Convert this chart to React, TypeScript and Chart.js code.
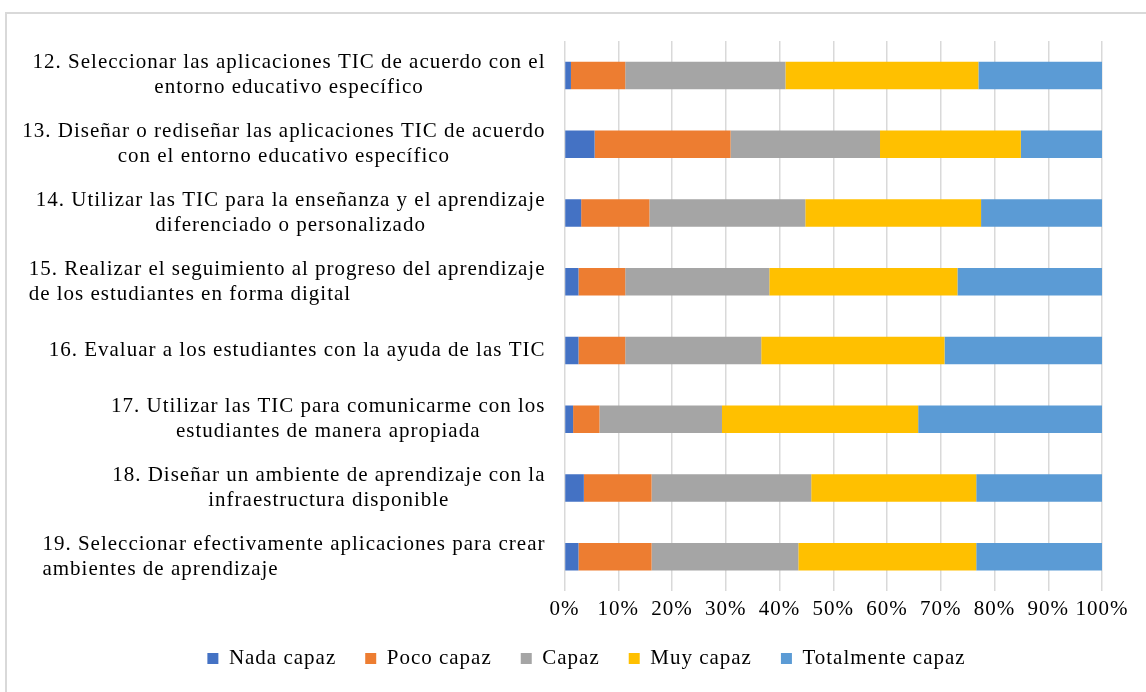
import React, { useEffect, useRef } from "react";
import { Chart, registerables } from "chart.js";

Chart.register(...registerables);

// ---------- data ----------
const categories: string[][] = [
  ["12. Seleccionar las aplicaciones TIC de acuerdo con el", "entorno educativo específico"],
  ["13. Diseñar o rediseñar las aplicaciones TIC de acuerdo", "con el entorno educativo específico"],
  ["14. Utilizar las TIC para la enseñanza y el aprendizaje", "diferenciado o personalizado"],
  ["15. Realizar el seguimiento al progreso del aprendizaje", "de los estudiantes en forma digital"],
  ["16. Evaluar a los estudiantes con la ayuda de las TIC"],
  ["17. Utilizar las TIC para comunicarme con los", "estudiantes de manera apropiada"],
  ["18. Diseñar un ambiente de aprendizaje con la", "infraestructura disponible"],
  ["19. Seleccionar efectivamente aplicaciones para crear", "ambientes de aprendizaje"],
];

const seriesNames = ["Nada capaz", "Poco capaz", "Capaz", "Muy capaz", "Totalmente capaz"];

const nadaCapaz = [1.2, 5.6, 3.1, 2.6, 2.6, 1.6, 3.6, 2.6];
const pocoCapaz = [10.1, 25.3, 12.7, 8.7, 8.7, 4.9, 12.6, 13.6];
const capaz = [29.8, 27.8, 29.0, 26.8, 25.3, 22.8, 29.7, 27.3];
const muyCapaz = [35.9, 26.2, 32.7, 35.0, 34.1, 36.5, 30.7, 33.1];
const totalmenteCapaz = [23.0, 15.2, 22.5, 26.9, 29.3, 34.2, 23.4, 23.4];

const xTickValues = [0, 10, 20, 30, 40, 50, 60, 70, 80, 90, 100];

// ---------- styles ----------
const seriesColors = ["#4472C4", "#ED7D31", "#A5A5A5", "#FFC000", "#5B9BD5"];
const labelAlign = ["center", "center", "center", "left", "center", "center", "center", "left"];
const FONT_FAMILY = '"Liberation Serif", "Times New Roman", serif';
const FONT_SIZE = 21;
const LETTER_SPACING = "1px";
const LINE_HEIGHT = 25;
const LABEL_GAP = 19;
const TEXT_COLOR = "#000000";
const GRID_COLOR = "#d9d9d9";

const spacingPlugin = {
  id: "letterSpacing",
  beforeUpdate(chart: any) {
    chart.ctx.letterSpacing = LETTER_SPACING;
  },
  beforeLayout(chart: any) {
    chart.ctx.letterSpacing = LETTER_SPACING;
  },
  beforeDraw(chart: any) {
    chart.ctx.letterSpacing = LETTER_SPACING;
  },
};

const yLabelPlugin = {
  id: "yLabels",
  afterDraw(chart: any) {
    const ctx = chart.ctx as CanvasRenderingContext2D;
    const yScale = chart.scales.y;
    ctx.save();
    (ctx as any).letterSpacing = LETTER_SPACING;
    ctx.font = `${FONT_SIZE}px ${FONT_FAMILY}`;
    ctx.fillStyle = TEXT_COLOR;
    ctx.textBaseline = "middle";
    const right = chart.chartArea.left - LABEL_GAP;
    categories.forEach((lines, i) => {
      const cy = yScale.getPixelForTick(i);
      const widths = lines.map((l) => ctx.measureText(l).width);
      const maxW = Math.max(...widths);
      const left = right - maxW;
      lines.forEach((line, j) => {
        const ly = cy + (j - (lines.length - 1) / 2) * LINE_HEIGHT;
        if (labelAlign[i] === "left") {
          ctx.textAlign = "left";
          ctx.fillText(line, left, ly);
        } else {
          ctx.textAlign = "center";
          ctx.fillText(line, left + maxW / 2, ly);
        }
      });
    });
    ctx.restore();
  },
};

export default function App() {
  const canvasRef = useRef<HTMLCanvasElement | null>(null);

  useEffect(() => {
    document.body.style.margin = "0";
    if (!canvasRef.current) return;
    const values = [nadaCapaz, pocoCapaz, capaz, muyCapaz, totalmenteCapaz];
    const chart = new Chart(canvasRef.current, {
      type: "bar",
      data: {
        labels: categories.map((c) => c.join(" ")),
        datasets: seriesNames.map((name, k) => ({
          label: name,
          data: values[k],
          backgroundColor: seriesColors[k],
          borderWidth: 0,
          barPercentage: 0.4,
          categoryPercentage: 1,
        })),
      },
      options: {
        indexAxis: "y",
        animation: false,
        responsive: true,
        maintainAspectRatio: false,
        layout: { padding: { left: 71, right: 44, top: 41, bottom: 13 } },
        plugins: {
          tooltip: { enabled: false },
          legend: {
            position: "bottom",
            labels: {
              boxWidth: 11,
              boxHeight: 11,
              padding: 29,
              color: TEXT_COLOR,
              font: { family: FONT_FAMILY, size: FONT_SIZE },
            },
          },
        },
        scales: {
          x: {
            stacked: true,
            min: 0,
            max: 100,
            afterBuildTicks(scale: any) {
              scale.ticks = xTickValues.map((v) => ({ value: v }));
            },
            afterFit(scale: any) {
              scale.height = 28;
            },
            ticks: {
              color: TEXT_COLOR,
              font: { family: FONT_FAMILY, size: FONT_SIZE },
              padding: 6,
              maxRotation: 0,
              autoSkip: false,
              callback: (v: any) => `${v}%`,
            },
            grid: { color: GRID_COLOR, lineWidth: 1.5, drawTicks: false },
            border: { display: false },
          },
          y: {
            stacked: true,
            afterFit(scale: any) {
              scale.width = 493.5;
            },
            ticks: { display: false },
            grid: { display: false, drawTicks: false },
            border: { display: false },
          },
        },
      },
      plugins: [spacingPlugin, yLabelPlugin],
    } as any);
    return () => chart.destroy();
  }, []);

  return (
    <div style={{ position: "relative", width: 1146, height: 692, overflow: "hidden", background: "#fff" }}>
      <div
        style={{
          position: "absolute",
          left: 5,
          top: 12,
          width: 1200,
          height: 800,
          border: `2px solid ${GRID_COLOR}`,
          boxSizing: "border-box",
        }}
      />
      <div style={{ position: "absolute", left: 0, top: 0, width: 1146, height: 692 }}>
        <canvas ref={canvasRef} />
      </div>
    </div>
  );
}
